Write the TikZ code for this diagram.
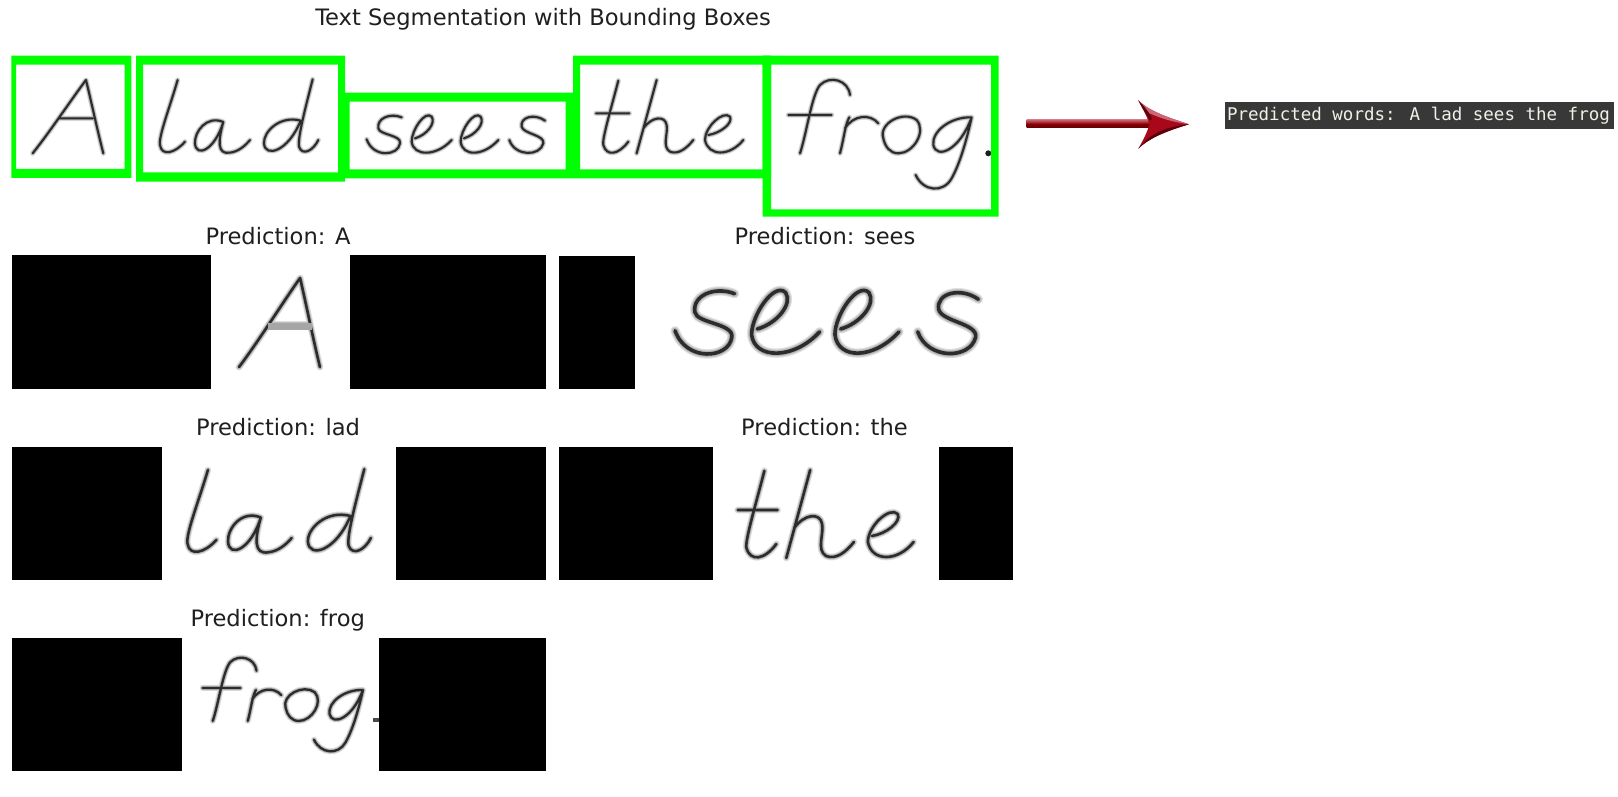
\documentclass[tikz,border=0pt]{standalone}
\usepackage{fontspec}
\setmainfont{DejaVu Sans}
\newfontfamily\consolefont{DejaVu Sans Mono}
\usetikzlibrary{calc}
\definecolor{boxgreen}{RGB}{0,255,0}
\definecolor{termbg}{RGB}{56,56,56}
\definecolor{termfg}{RGB}{240,240,230}
\definecolor{ink}{RGB}{30,30,30}
\definecolor{redmain}{RGB}{168,8,26}
\definecolor{reddark}{RGB}{90,0,14}
\definecolor{redlight}{RGB}{204,104,118}
\tikzset{
  caption/.style={anchor=base,font=\fontsize{22.6}{26}\selectfont,text=black!88,inner sep=0pt},
  blackout/.style={fill=black,draw=none},
  greenframe/.style={fill=boxgreen,even odd rule,draw=none},
  coreink/.style={draw=ink,opacity=.9,line cap=round,line join=round},
  haloink/.style={draw=ink,opacity=.13,line cap=round,line join=round}
}
% handwriting, in the coordinates of a 3x enlargement of the top strip
\def\glyphAa{(68,280) .. controls (120,215) and (190,110) .. (228,60) .. controls (245,130) and (262,210) .. (280,280) (145,175) -- (248,175)}
\def\glyphLad{(503,60) .. controls (480,140) and (445,230) .. (450,255) .. controls (455,290) and (495,280) .. (525,245)
 (640,186) .. controls (590,165) and (553,215) .. (555,250) .. controls (558,295) and (615,270) .. (640,186) .. controls (625,240) and (620,285) .. (660,278) .. controls (685,275) and (705,258) .. (720,240)
 (872,182) .. controls (810,165) and (760,215) .. (762,250) .. controls (765,295) and (835,275) .. (872,182)
 (908,58) .. controls (890,130) and (860,240) .. (868,262) .. controls (878,288) and (910,272) .. (925,240)}
\def\glyphSees{(155,172) .. controls (120,158) and (80,175) .. (85,205) .. controls (88,225) and (155,225) .. (150,250) .. controls (145,288) and (70,295) .. (50,238)
 (195,235) .. controls (230,225) and (258,190) .. (245,170) .. controls (225,150) and (185,210) .. (185,245) .. controls (190,290) and (260,290) .. (305,240)
 (342,235) .. controls (377,225) and (405,190) .. (392,170) .. controls (372,150) and (332,210) .. (332,245) .. controls (337,290) and (400,290) .. (445,240)
 (585,182) .. controls (555,160) and (510,170) .. (515,200) .. controls (520,222) and (585,225) .. (580,250) .. controls (570,290) and (495,290) .. (478,240)}
\def\glyphThe{(805,62) .. controls (785,140) and (755,240) .. (760,255) .. controls (770,290) and (805,285) .. (835,245) (738,160) -- (838,160)
 (920,60) -- (860,280) (880,205) .. controls (905,170) and (945,165) .. (950,195) .. controls (955,220) and (935,260) .. (960,275) .. controls (985,285) and (1010,265) .. (1030,240)
 (1075,225) .. controls (1110,220) and (1150,190) .. (1140,170) .. controls (1120,150) and (1065,200) .. (1065,240) .. controls (1075,290) and (1140,290) .. (1180,240)}
\def\glyphFrog{(240,105) .. controls (235,60) and (180,45) .. (150,75) .. controls (125,105) and (110,220) .. (90,280) (55,165) -- (185,165)
 (210,280) .. controls (222,235) and (225,195) .. (238,172) (225,205) .. controls (250,165) and (300,160) .. (325,190)
 (340,235) .. controls (325,190) and (400,150) .. (440,180) .. controls (470,215) and (430,280) .. (385,280) .. controls (360,280) and (345,260) .. (340,235) -- cycle
 (605,172) .. controls (540,170) and (485,215) .. (490,255) .. controls (500,300) and (570,270) .. (605,172) .. controls (590,240) and (570,310) .. (545,355) .. controls (520,400) and (460,395) .. (437,345)}
% #1 x0, #2 y0, #3 xscale, #4 yscale, #5 core width (pt), #6 path: soft blur in three layers
\newcommand\inkword[6]{%
  \begin{scope}[shift={(#1,#2)},xscale=#3,yscale=#4]
    \draw[haloink,line width=2.6*#5 pt] #6;
    \draw[haloink,line width=2.0*#5 pt] #6;
    \draw[haloink,line width=1.5*#5 pt] #6;
    \draw[coreink,line width=#5 pt] #6;
  \end{scope}}
\begin{document}
\begin{tikzpicture}[x=1pt,y=-1pt]
\useasboundingbox (0,0) rectangle (1618,797);
\fill[white] (0,0) rectangle (1618,797);

% top strip handwriting
\inkword{10}{60}{0.3333}{0.3333}{2.1}{\glyphAa}
\inkword{10}{60}{0.3333}{0.3333}{2.1}{\glyphLad}
\inkword{350}{60}{0.3333}{0.3333}{2.1}{\glyphSees}
\inkword{350}{60}{0.3333}{0.3333}{2.1}{\glyphThe}
\inkword{770}{60}{0.3333}{0.3333}{2.1}{\glyphFrog}
\fill[ink] (988.3,153.3) circle[radius=3];

% green boxes
\fill[greenframe] (11.3,55.7) rectangle (131.3,178) (16,64.7) rectangle (124.7,169);
\fill[greenframe] (136,55.7) rectangle (345,181.7) (143,64.7) rectangle (338,172.3);
\fill[greenframe] (345,92.7) rectangle (573,178.3) (349.5,101.7) rectangle (565.6,169.3);
\fill[greenframe] (573,55.7) rectangle (771,178.3) (580,64.7) rectangle (762.6,169.3);
\fill[greenframe] (762.6,55.7) rectangle (998.7,216.7) (771,64.7) rectangle (991,209.3);

% row crops: handwriting first, masks above
\inkword{213}{253.7}{0.382}{0.405}{2.6}{\glyphAa}
\fill[gray!70] (268,322.5) rectangle (312,330);
\inkword{646.7}{197.4}{0.567}{0.56}{3.6}{\glyphSees}
\inkword{13.8}{447.2}{0.386}{0.378}{2.5}{\glyphLad}
\inkword{444}{446}{0.398}{0.4}{2.6}{\glyphThe}
\inkword{186.5}{640.6}{0.2917}{0.287}{2.3}{\glyphFrog}
\fill[ink!80] (373,718) rectangle (380,722);

\fill[blackout] (11.8,255) rectangle (211,389.3);
\fill[blackout] (350,255) rectangle (545.5,389.3);
\fill[blackout] (559,256) rectangle (634.5,389.3);
\fill[blackout] (11.8,446.7) rectangle (161.5,580);
\fill[blackout] (396,446.7) rectangle (545.5,580);
\fill[blackout] (559,446.7) rectangle (713,580);
\fill[blackout] (938.5,446.7) rectangle (1012.6,580);
\fill[blackout] (11.8,637.7) rectangle (182,771);
\fill[blackout] (379,637.7) rectangle (545.7,771);

% captions
\node[caption] (title) at (543,25.5) {Text Segmentation with Bounding Boxes};
\node[caption] (predA) at (278,244) {Prediction: A};
\node[caption] (predSees) at (825,244.5) {Prediction: sees};
\node[caption] (predLad) at (278,435.7) {Prediction: lad};
\node[caption] (predThe) at (824.5,435.7) {Prediction: the};
\node[caption] (predFrog) at (277.7,626.7) {Prediction: frog};

% output text
\node[fill=termbg,minimum width=388.5pt,minimum height=26.4pt,inner sep=0pt,outer sep=0pt] (output) at (1419.25,115.5) {};
\node[anchor=base,inner sep=0pt,text=termfg,font=\consolefont\fontsize{17.5}{20}\selectfont] (outputtext) at (1418.5,120.8) {Predicted words: A lad sees the frog};

% glossy arrow
\coordinate (tailtop) at (1026.7,119.7);
\coordinate (tailbot) at (1026.7,128);
\shade[top color=redlight,bottom color=reddark,middle color=red!55!black] (tailtop) rectangle (1150,128);
\fill[redmain] (1138.3,100.3) .. controls (1150,112) and (1170,118) .. (1189,124.3)
   .. controls (1170,130) and (1150,137) .. (1138.3,148.7)
   .. controls (1145,137) and (1148,130) .. (1149.3,124.3)
   .. controls (1148,118) and (1143,110) .. (1138.3,100.3) -- cycle;
\fill[redlight] (1138.3,100.3) .. controls (1150,112) and (1170,118) .. (1189,124.3)
   .. controls (1172,122) and (1160,118) .. (1149,113) .. controls (1145,110) and (1141,105) .. (1138.3,100.3) -- cycle;
\fill[reddark] (1138.3,100.3) .. controls (1142,108) and (1148,116) .. (1149.3,120) -- (1152,119.5) .. controls (1150,113) and (1144,106) .. (1138.3,100.3) -- cycle;
\fill[reddark] (1138.3,148.7) .. controls (1150,137) and (1170,130) .. (1189,124.3)
   .. controls (1172,126) and (1160,130) .. (1150,137) .. controls (1145,141) and (1141,145) .. (1138.3,148.7) -- cycle;
\end{tikzpicture}
\end{document}
